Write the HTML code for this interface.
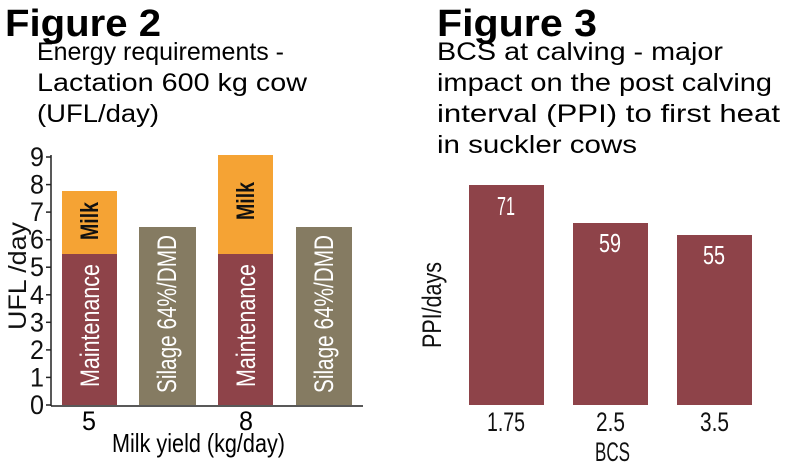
<!DOCTYPE html>
<html><head><style>
body{margin:0;background:#fff;}
svg{display:block;font-family:"Liberation Sans Narrow","Liberation Sans",sans-serif;}
</style></head><body>
<svg width="790" height="468" viewBox="0 0 790 468">
<text x="5" y="36" font-size="38" font-weight="bold" textLength="156" lengthAdjust="spacingAndGlyphs">Figure 2</text>
<text x="37" y="60" font-size="25" textLength="247" lengthAdjust="spacingAndGlyphs">Energy requirements -</text>
<text x="37" y="91" font-size="25" textLength="270" lengthAdjust="spacingAndGlyphs">Lactation  600 kg cow</text>
<text x="37" y="122" font-size="25" textLength="122" lengthAdjust="spacingAndGlyphs">(UFL/day)</text>
<text x="437" y="36" font-size="38" font-weight="bold" textLength="160" lengthAdjust="spacingAndGlyphs">Figure 3</text>
<text x="437" y="60" font-size="25" textLength="286" lengthAdjust="spacingAndGlyphs">BCS at calving - major</text>
<text x="437" y="91" font-size="25" textLength="335" lengthAdjust="spacingAndGlyphs">impact on the post calving</text>
<text x="437" y="122" font-size="25" textLength="343" lengthAdjust="spacingAndGlyphs">interval (PPI) to first heat</text>
<text x="437" y="153" font-size="25" textLength="200" lengthAdjust="spacingAndGlyphs">in suckler cows</text>

<rect x="62" y="254" width="55" height="151" fill="#8e4349"/>
<rect x="62" y="191" width="55" height="63" fill="#f5a334"/>
<rect x="139" y="227" width="57" height="178" fill="#857b62"/>
<rect x="218" y="254" width="55" height="151" fill="#8e4349"/>
<rect x="218" y="155" width="55" height="99" fill="#f5a334"/>
<rect x="296" y="227" width="56" height="178" fill="#857b62"/>
<line x1="51" y1="155" x2="51" y2="406" stroke="#222" stroke-width="1.5"/>
<line x1="51" y1="406" x2="363" y2="406" stroke="#222" stroke-width="1.5"/>
<g stroke="#222" stroke-width="1.5">
<line x1="46" y1="405" x2="51" y2="405"/><line x1="46" y1="377.4" x2="51" y2="377.4"/><line x1="46" y1="349.9" x2="51" y2="349.9"/><line x1="46" y1="322.3" x2="51" y2="322.3"/><line x1="46" y1="294.8" x2="51" y2="294.8"/><line x1="46" y1="267.2" x2="51" y2="267.2"/><line x1="46" y1="239.7" x2="51" y2="239.7"/><line x1="46" y1="212.1" x2="51" y2="212.1"/><line x1="46" y1="184.6" x2="51" y2="184.6"/><line x1="46" y1="157" x2="51" y2="157"/>
</g>
<g font-size="27" fill="#111">
<text x="30" y="414" textLength="14" lengthAdjust="spacingAndGlyphs">0</text><text x="30" y="386.4" textLength="14" lengthAdjust="spacingAndGlyphs">1</text><text x="30" y="358.9" textLength="14" lengthAdjust="spacingAndGlyphs">2</text><text x="30" y="331.3" textLength="14" lengthAdjust="spacingAndGlyphs">3</text><text x="30" y="303.8" textLength="14" lengthAdjust="spacingAndGlyphs">4</text><text x="30" y="276.2" textLength="14" lengthAdjust="spacingAndGlyphs">5</text><text x="30" y="248.7" textLength="14" lengthAdjust="spacingAndGlyphs">6</text><text x="30" y="221.1" textLength="14" lengthAdjust="spacingAndGlyphs">7</text><text x="30" y="193.6" textLength="14" lengthAdjust="spacingAndGlyphs">8</text><text x="30" y="166" textLength="14" lengthAdjust="spacingAndGlyphs">9</text>
</g>
<text transform="translate(26,330) rotate(-90)" font-size="25" fill="#111" textLength="108" lengthAdjust="spacingAndGlyphs">UFL /day</text>
<text x="82" y="430" font-size="27" textLength="14" lengthAdjust="spacingAndGlyphs">5</text>
<text x="239" y="430" font-size="27" textLength="14" lengthAdjust="spacingAndGlyphs">8</text>
<text x="112" y="452" font-size="26" textLength="173" lengthAdjust="spacingAndGlyphs">Milk yield (kg/day)</text>
<g font-size="27" fill="#fff">
<text transform="translate(99,387) rotate(-90)" textLength="123" lengthAdjust="spacingAndGlyphs">Maintenance</text>
<text transform="translate(176,393) rotate(-90)" textLength="158" lengthAdjust="spacingAndGlyphs">Silage 64%/DMD</text>
<text transform="translate(255,387) rotate(-90)" textLength="123" lengthAdjust="spacingAndGlyphs">Maintenance</text>
<text transform="translate(333,393) rotate(-90)" textLength="158" lengthAdjust="spacingAndGlyphs">Silage 64%/DMD</text>
</g>
<g font-size="25" font-weight="bold" fill="#111">
<text transform="translate(98,240) rotate(-90)" textLength="38" lengthAdjust="spacingAndGlyphs">Milk</text>
<text transform="translate(254,220) rotate(-90)" textLength="38" lengthAdjust="spacingAndGlyphs">Milk</text>
</g>

<rect x="469" y="185" width="75" height="220" fill="#8e4349"/>
<rect x="573" y="223" width="75" height="182" fill="#8e4349"/>
<rect x="677" y="235" width="75" height="170" fill="#8e4349"/>
<g font-size="26" fill="#fff">
<text x="497" y="215" textLength="18" lengthAdjust="spacingAndGlyphs">71</text>
<text x="599" y="252" textLength="22" lengthAdjust="spacingAndGlyphs">59</text>
<text x="703" y="264" textLength="22" lengthAdjust="spacingAndGlyphs">55</text>
</g>
<g font-size="27" fill="#111">
<text x="487" y="431" textLength="38" lengthAdjust="spacingAndGlyphs">1.75</text>
<text x="596" y="431" textLength="29" lengthAdjust="spacingAndGlyphs">2.5</text>
<text x="700" y="431" textLength="29" lengthAdjust="spacingAndGlyphs">3.5</text>
<text x="595" y="461" textLength="35" lengthAdjust="spacingAndGlyphs">BCS</text>
</g>
<text transform="translate(441,348) rotate(-90)" font-size="27" fill="#111" textLength="86" lengthAdjust="spacingAndGlyphs">PPI/days</text>
</svg>
</body></html>
